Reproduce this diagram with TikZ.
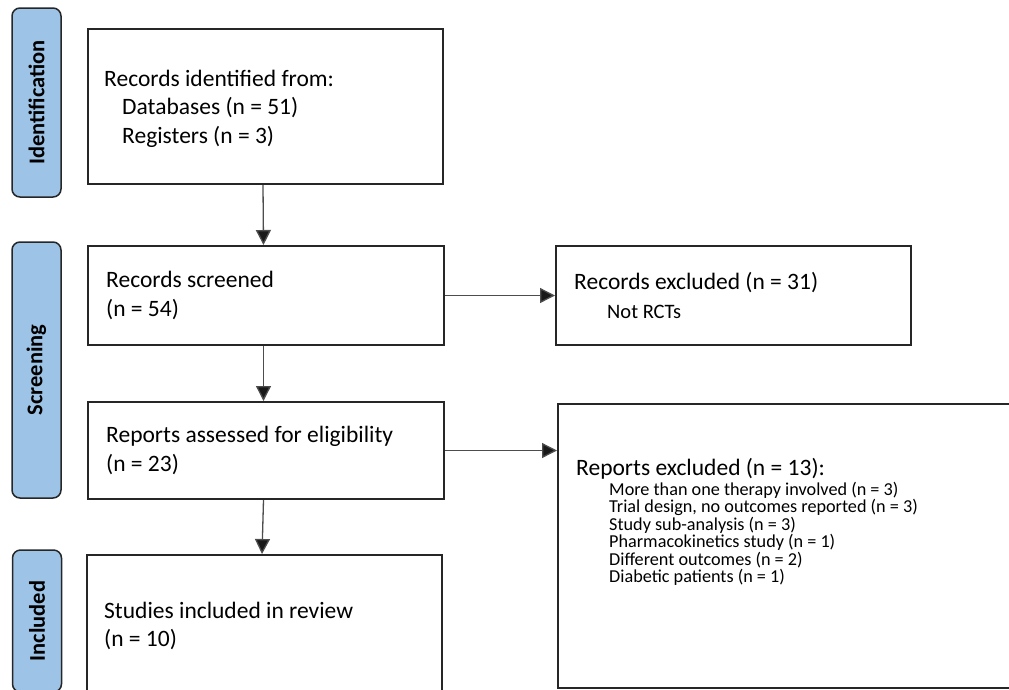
\documentclass[tikz,border=0pt]{standalone}
\usepackage{fontspec}
\setmainfont{Carlito}
\usetikzlibrary{arrows.meta,positioning}
\definecolor{flow-blue}{HTML}{9DC3E6}
\definecolor{flow-edge}{HTML}{262626}
\definecolor{flow-arrow}{HTML}{4D4D4D}
\newcommand{\mainsize}{\fontsize{23.5}{28.5}\selectfont}
\newcommand{\subsize}{\fontsize{18.2}{17.7}\selectfont}

\begin{document}
\begin{tikzpicture}[x=1pt, y=-1pt,
    box/.style={draw=flow-edge, line width=2pt, fill=white, anchor=north west, inner sep=0pt},
    phase/.style={draw=flow-edge, line width=1.5pt, fill=flow-blue, rounded corners=8pt,
                  rotate=90, minimum height=49pt, inner sep=0pt,
                  font=\fontsize{22.5}{24}\selectfont\bfseries},
    txt/.style={align=left, inner sep=0pt, font=\mainsize},
    arr/.style={-{Triangle[length=15pt,width=15pt,fill=black!90]}, line width=1.3pt, flow-arrow},
  ]
    \clip (0,0) rectangle (1009,689);

    % Phases
    \node[phase, minimum width=189pt] (idbar)   at (36.5,102.5) {Identification};
    \node[phase, minimum width=256pt] (scrbar)  at (36.5,370)   {Screening};
    \node[phase, minimum width=142pt] (incbar)  at (37,621)     {Included};

    % Main column
    \node[box, minimum width=355pt, minimum height=155pt] (ident)  at (87,28)  {};
    \node[box, minimum width=356pt, minimum height=99pt]  (screen) at (87,245) {};
    \node[box, minimum width=356pt, minimum height=97pt]  (assess) at (87,401) {};
    \node[box, minimum width=355pt, minimum height=142pt] (incl)   at (86,554) {};

    % Exclusions
    \node[box, minimum width=355pt, minimum height=99pt]  (recexcl) at (555,245) {};
    \node[box, minimum width=463pt, minimum height=284pt] (repexcl) at (557,403) {};

    % Texts
    \node[txt, anchor=west] (identtxt) at ([xshift=17pt, yshift=-2pt]ident.west)
          {Records identified from:\\\hspace*{18pt}Databases (n = 51)\\\hspace*{18pt}Registers (n = 3)};
    \node[txt, anchor=west] (screentxt) at ([xshift=19pt]screen.west)
          {Records screened\\(n = 54)};
    \node[txt, anchor=west] (assesstxt) at ([xshift=19pt]assess.west)
          {Reports assessed for eligibility\\(n = 23)};
    \node[txt, anchor=west] (incltxt) at ([xshift=18pt]incl.west)
          {Studies included in review\\(n = 10)};
    \node[txt, anchor=west] (recexcltxt) at ([xshift=19pt]recexcl.west)
          {Records excluded (n = 31)\\{\fontsize{20.5}{27}\selectfont\hspace*{33pt}Not RCTs}};
    \node[txt, anchor=base west] (repexcltxt) at (576,475) {Reports excluded (n = 13):};
    \foreach \reason [count=\i] in {More than one therapy involved (n = 3),
        {Trial design, no outcomes reported (n = 3)}, Study sub-analysis (n = 3),
        Pharmacokinetics study (n = 1), Different outcomes (n = 2), Diabetic patients (n = 1)}
      \node[inner sep=0pt, font=\subsize, anchor=base west] (reason\i)
            at (609,{495+17.5*(\i-1)}) {\reason};

    % Arrows
    \draw[arr] ([xshift=-2.5pt]ident.south) -- ([xshift=-2.5pt]screen.north);
    \draw[arr] ([xshift=-2.5pt]screen.south) -- ([xshift=-2.5pt]assess.north);
    \draw[arr] ([xshift=-2.5pt]assess.south) -- ([xshift=-2.5pt]incl.north);
    \draw[arr] (screen.east) -- (recexcl.west);
    \draw[arr] (assess.east) -- (assess.east -| repexcl.west);
  \end{tikzpicture}
\end{document}
